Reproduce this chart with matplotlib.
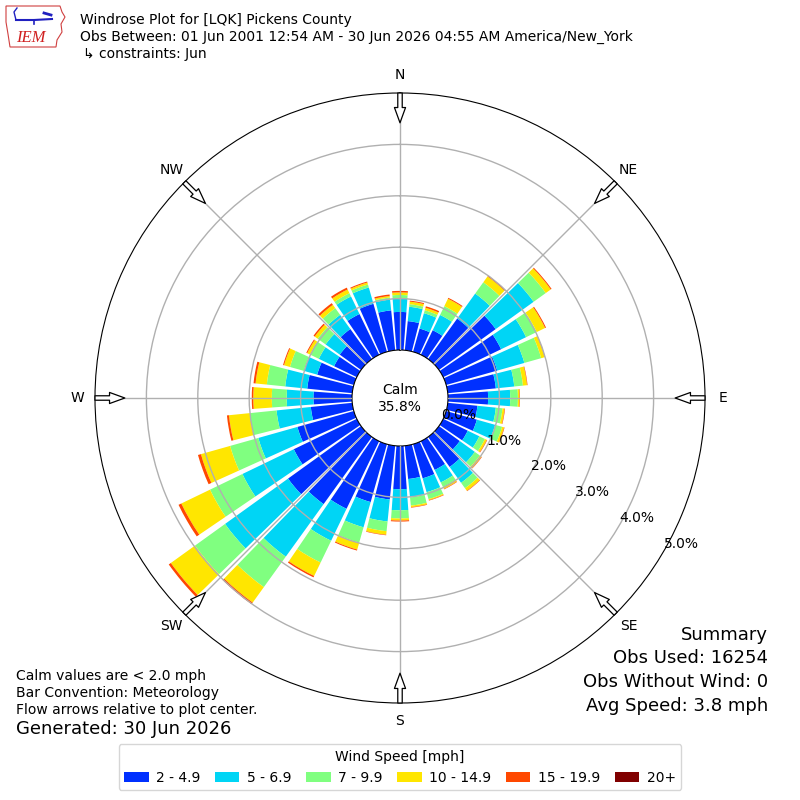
import numpy as np
import matplotlib.pyplot as plt
from matplotlib.patches import Polygon

# wind directions (deg, meteorological) and frequency (%) for each speed bin
directions = np.arange(0, 360, 10)
speed_labels = ["2 - 4.9", "5 - 6.9", "7 - 9.9", "10 - 14.9", "15 - 19.9", "20+"]
colors = ["#0030ff", "#00d5f5", "#80ff80", "#ffe600", "#ff4800", "#800000"]

s2_5 = [0.74, 0.57, 0.47, 0.53, 0.97, 1.36, 1.25, 1.03, 0.94, 0.78, 0.58, 0.62,
        0.53, 0.50, 0.72, 0.62, 0.69, 0.65, 0.84, 1.05, 1.17, 1.46, 1.61, 1.75,
        1.36, 1.14, 0.81, 0.75, 0.88, 0.74, 0.49, 0.51, 0.72, 0.88, 0.97, 0.78]
s5_7 = [0.27, 0.28, 0.31, 0.33, 0.60, 0.91, 0.54, 0.55, 0.36, 0.43, 0.36, 0.37,
        0.25, 0.36, 0.38, 0.27, 0.28, 0.36, 0.41, 0.43, 0.51, 0.69, 1.26, 1.51,
        1.11, 0.79, 0.67, 0.52, 0.43, 0.27, 0.33, 0.34, 0.34, 0.38, 0.33, 0.21]
s7_10 = [0.06, 0.05, 0.06, 0.19, 0.27, 0.29, 0.23, 0.34, 0.17, 0.15, 0.13, 0.14,
         0.12, 0.12, 0.13, 0.10, 0.14, 0.16, 0.16, 0.19, 0.31, 0.47, 0.73, 0.72,
         0.70, 0.57, 0.52, 0.29, 0.36, 0.28, 0.19, 0.19, 0.16, 0.07, 0.06, 0.04]
s10_15 = [0.05, 0.05, 0.05, 0.16, 0.14, 0.12, 0.18, 0.07, 0.08, 0.03, 0.04, 0.04,
          0.04, 0.04, 0.06, 0.04, 0.02, 0.03, 0.04, 0.07, 0.14, 0.29, 0.37, 0.58,
          0.62, 0.59, 0.41, 0.36, 0.22, 0.12, 0.06, 0.07, 0.08, 0.08, 0.04, 0.03]
s15_20 = [0.03, 0.02, 0.03, 0.02, 0.02, 0.02, 0.02, 0.01, 0.01, 0.01, 0.01, 0.01,
          0.01, 0.01, 0.01, 0.01, 0.01, 0.01, 0.02, 0.01, 0.02, 0.03, 0.04, 0.05,
          0.06, 0.06, 0.04, 0.03, 0.04, 0.02, 0.02, 0.03, 0.04, 0.04, 0.02, 0.03]
s20 = [0.0] * 36

calm_pct = 35.8
rticks = [0, 1, 2, 3, 4, 5]
compass = ["N", "NE", "E", "SE", "S", "SW", "W", "NW"]

fig = plt.figure(figsize=(8, 8), dpi=100)
ax = fig.add_axes([95 / 800, 97 / 800, 610 / 800, 610 / 800], projection="polar")
ax.set_theta_zero_location("N")
ax.set_theta_direction(-1)
ax.set_rorigin(-0.934)
ax.set_ylim(0, 5)

theta = np.deg2rad(directions)
bottom = np.zeros(36)
for vals, col, lab in zip([s2_5, s5_7, s7_10, s10_15, s15_20, s20], colors, speed_labels):
    vals = np.array(vals)
    ax.bar(theta, vals, width=np.deg2rad(8.5), bottom=bottom, color=col,
           linewidth=0, label=lab, zorder=1)
    bottom += vals

ax.set_xticks(np.deg2rad(np.arange(0, 360, 45)))
ax.set_xticklabels(compass, fontsize=10)
ax.tick_params(axis="x", pad=6, length=0)
ax.set_yticks(rticks)
ax.set_yticklabels(["%.1f%%" % r for r in rticks], fontsize=10)
ax.set_rlabel_position(120)
ax.grid(True, color="#b0b0b0", linewidth=1)
ax.set_axisbelow(False)
# inner and outer rings are the black spines, not grid
gl = ax.yaxis.get_gridlines()
gl[0].set_visible(False)
gl[-1].set_visible(False)

# compass arrows pointing to the centre
for d in range(0, 360, 45):
    ax.annotate("", xy=(np.deg2rad(d), 4.42), xytext=(np.deg2rad(d), 5.0),
                arrowprops=dict(arrowstyle="simple,head_length=1.1,head_width=0.8,tail_width=0.32",
                                fc="white", ec="black", lw=0.9, shrinkA=0, shrinkB=0,
                                mutation_scale=10),
                annotation_clip=False, zorder=5)

fig.text(0.5, 1 - 398.5 / 800, "Calm\n%.1f%%" % calm_pct, ha="center", va="center",
         fontsize=10)

# header
fig.text(80 / 800, 1 - 20 / 800, "Windrose Plot for [LQK] Pickens County", fontsize=10, va="center")
fig.text(80 / 800, 1 - 37 / 800,
         "Obs Between: 01 Jun 2001 12:54 AM - 30 Jun 2026 04:55 AM America/New_York",
         fontsize=10, va="center")
fig.text(83 / 800, 1 - 54 / 800, "\u21b3 constraints: Jun", fontsize=10, va="center")

# logo
lax = fig.add_axes([4 / 800, 1 - 50 / 800, 62 / 800, 46 / 800])
lax.set_xlim(0, 62)
lax.set_ylim(0, 46)
lax.axis("off")
lax.add_patch(Polygon([(2, 44), (56, 44), (58, 38), (61, 33), (57, 26), (58, 18),
                       (53, 10), (52, 3), (6, 3), (4, 16), (2, 28)],
                      closed=True, fill=False, ec="#d04040", lw=0.8))
lax.plot([12, 30, 48], [30, 30, 31], color="#2020c0", lw=1.5)
lax.plot([30, 30], [30, 26], color="#2020c0", lw=1.2)
lax.plot([12, 10, 13], [30, 38, 42], color="#2020c0", lw=1)
lax.plot([40, 47], [37, 35], color="#2020c0", lw=2)
lax.text(27, 12, "IEM", color="#d02020", fontsize=12, style="italic",
         family="Liberation Serif", ha="center", va="center")

# footer text
fig.text(16 / 800, 1 - 676 / 800, "Calm values are < 2.0 mph", fontsize=10, va="center")
fig.text(16 / 800, 1 - 693 / 800, "Bar Convention: Meteorology", fontsize=10, va="center")
fig.text(16 / 800, 1 - 710 / 800, "Flow arrows relative to plot center.", fontsize=10, va="center")
fig.text(16 / 800, 1 - 729 / 800, "Generated: 30 Jun 2026", fontsize=13, va="center")

fig.text(768 / 800, 1 - 635 / 800, "Summary", fontsize=13, ha="right", va="center")
fig.text(768 / 800, 1 - 658 / 800, "Obs Used: 16254", fontsize=13, ha="right", va="center")
fig.text(768 / 800, 1 - 682 / 800, "Obs Without Wind: 0", fontsize=13, ha="right", va="center")
fig.text(768 / 800, 1 - 706 / 800, "Avg Speed: 3.8 mph", fontsize=13, ha="right", va="center")

handles, labels = ax.get_legend_handles_labels()
fig.legend(handles, labels, loc="lower center", bbox_to_anchor=(0.5, 3 / 800), ncol=6,
           title="Wind Speed [mph]", fontsize=10, title_fontsize=10,
           handlelength=1.75, handletextpad=0.55, columnspacing=1.05)

fig.savefig("out.png", dpi=100)
